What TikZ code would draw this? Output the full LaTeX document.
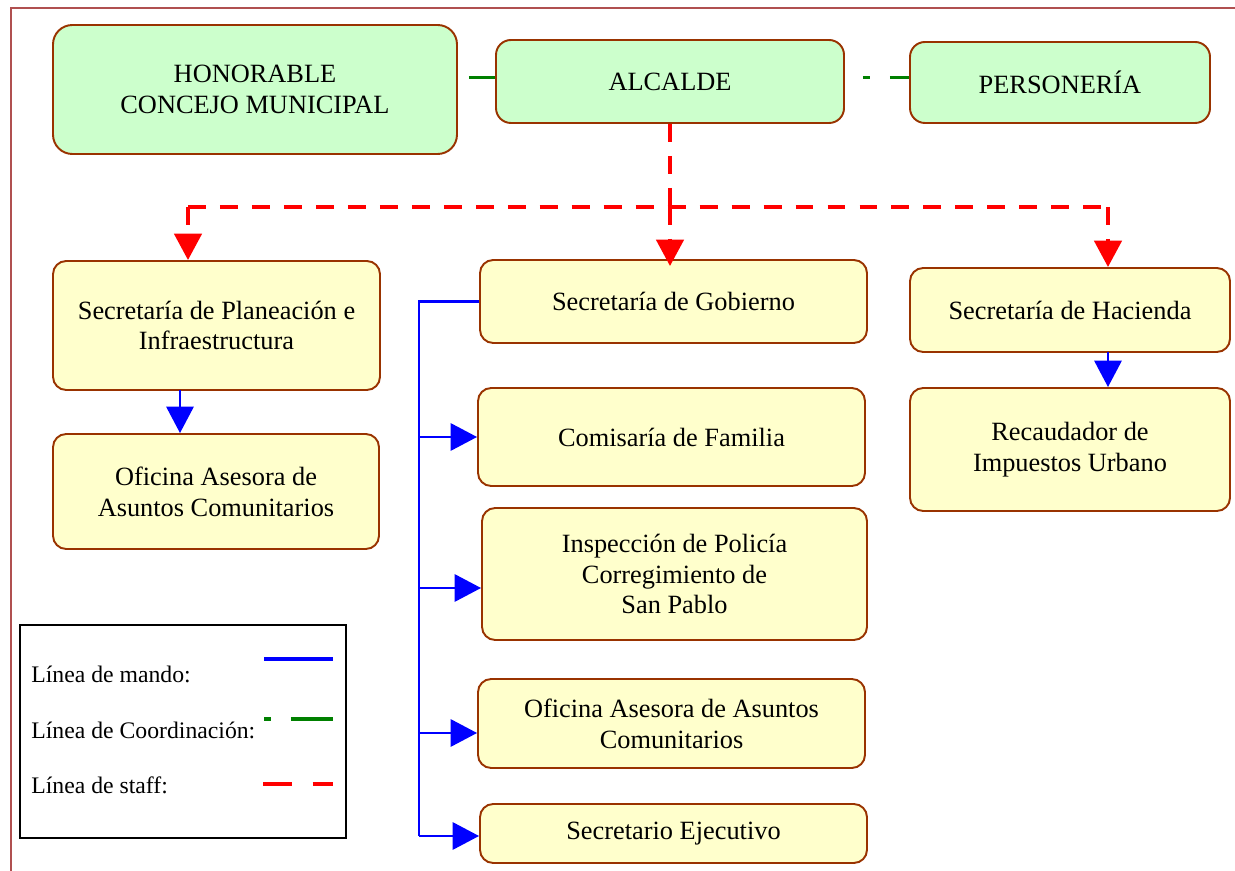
\documentclass[tikz,border=0pt]{standalone}
\usepackage{fontspec}
\setmainfont{Liberation Serif}
\usetikzlibrary{arrows.meta}
\definecolor{borde}{RGB}{153,51,0}
\definecolor{verde}{RGB}{204,255,204}
\definecolor{amarillo}{RGB}{255,255,204}
\definecolor{marco}{RGB}{176,80,80}
\definecolor{coordverde}{RGB}{0,128,0}

\begin{document}
\begin{tikzpicture}[x=0.02cm,y=-0.02cm,
  every node/.style={font=\fontsize{15}{17.5}\selectfont, align=center, inner sep=0pt},
  caja/.style args={#1/#2}{draw=borde, line width=1.1pt, rounded corners=7.5pt, minimum width=#1*0.02cm, minimum height=#2*0.02cm},
  cverde/.style={caja=#1, fill=verde, rounded corners=8.5pt},
  camarilla/.style={caja=#1, fill=amarillo},
  flecha/.style={-{Triangle[length=15pt,width=15.5pt]}},
  staff/.style={draw=red, line width=2.2pt, dash pattern=on 10.2pt off 8pt},
  coord/.style={draw=coordverde, line width=2pt, dash pattern=on 3.97pt off 11.34pt on 23.8pt off 11.34pt},
  mando/.style={draw=blue, line width=1.3pt},
  leyenda/.style={anchor=west, font=\fontsize{13.5}{16}\selectfont}]
\useasboundingbox (0,0) rectangle (1235,871);
\draw[marco, line width=0.75pt] (11,871) -- (11,8) -- (1235,8);

\node[cverde=404/129, rounded corners=11pt] (concejo) at (255,89.5) {HONORABLE\\CONCEJO MUNICIPAL};
\node[cverde=348/83] (alcalde) at (670,81.5) {ALCALDE};
\node[cverde=300/81] (personeria) at (1060,82.5) {PERSONERÍA};

\node[camarilla=327/129] (planeacion) at (216.5,325.5) {Secretaría de Planeación e\\Infraestructura};
\node[camarilla=326/115] (asesoraPl) at (216,491.5) {Oficina Asesora de\\Asuntos Comunitarios};
\node[camarilla=387/83] (gobierno) at (673.5,301.5) {Secretaría de Gobierno};
\node[camarilla=387/98] (comisaria) at (671.5,437) {Comisaría de Familia};
\node[camarilla=385/132] (inspeccion) at (674.5,574) {Inspección de Policía\\Corregimiento de\\San Pablo};
\node[camarilla=387/89] (asesoraGo) at (671.5,723.5) {Oficina Asesora de Asuntos\\Comunitarios};
\node[camarilla=387/59] (ejecutivo) at (673.5,833.5) {Secretario Ejecutivo};
\node[camarilla=320/84] (hacienda) at (1070,310) {Secretaría de Hacienda};
\node[camarilla=320/123] (recaudador) at (1070,449.5) {Recaudador de\\Impuestos Urbano};

\draw[coord, dash phase=9.07pt] ([yshift=0.08cm]concejo.east |- alcalde.west) -- ([yshift=0.08cm]alcalde.west);
\draw[coord, dash phase=40.25pt] ([yshift=0.08cm]alcalde.east) -- ([yshift=0.08cm]alcalde.east -| personeria.west);

\coordinate (hub) at (670,207);
\coordinate (izq) at (188,207);
\coordinate (der) at (1108,207);
\draw[staff] (alcalde.south) -- (hub);
\draw[staff] (izq) -- (der);
\draw[staff,flecha] (izq) -- (izq |- planeacion.north);
\draw[staff,flecha] (hub) -- ([yshift=-0.14cm]hub |- gobierno.north);
\draw[staff,flecha] (der) -- (der |- hacienda.north);

\coordinate (pa) at (180,390);
\coordinate (ha) at (1108,352);
\draw[mando,flecha] (pa) -- (pa |- asesoraPl.north);
\draw[mando,flecha] (ha) -- (ha |- recaudador.north);

\coordinate (tronco) at (419,301.5);
\coordinate (pie) at (419,836);
\draw[mando] (gobierno.west) -- (tronco) -- (pie);
\foreach \n/\y in {comisaria/437,inspeccion/588,asesoraGo/733,ejecutivo/836}{
  \coordinate (r\n) at (419,\y);
  \draw[mando,flecha] (r\n) -- (r\n -| \n.west);
}

\draw[line width=1pt] (20,625) rectangle (346,838);
\node[leyenda] (lmando) at (31,674) {Línea de mando:};
\node[leyenda] (lcoord) at (31,730) {Línea de Coordinación:};
\node[leyenda] (lstaff) at (31,785) {Línea de staff:};
\draw[blue, line width=2.2pt] (264,659) -- (333,659);
\draw[coord] (264,719) -- (333,719);
\draw[draw=red, line width=2.2pt, dash pattern=on 16.4pt off 11.9pt] (263,784) -- (333,784);
\end{tikzpicture}
\end{document}
